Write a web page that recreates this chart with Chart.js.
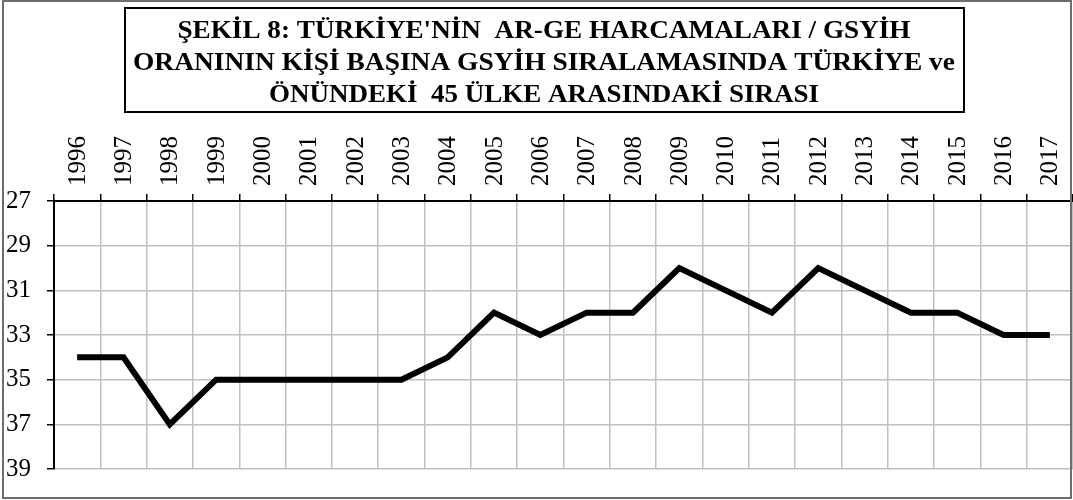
<!DOCTYPE html>
<html>
<head>
<meta charset="utf-8">
<script src="https://cdn.jsdelivr.net/npm/chart.js@4"></script>
<style>
html,body{margin:0;padding:0;background:#fff;}
#wrap{width:1073px;height:500px;position:relative;}
</style>
</head>
<body>
<div id="wrap"><canvas id="c" width="1073" height="500"></canvas></div>
<script>
const years = ['1996','1997','1998','1999','2000','2001','2002','2003','2004','2005','2006','2007','2008','2009','2010','2011','2012','2013','2014','2015','2016','2017'];
const ranks = [34,34,37,35,35,35,35,35,34,32,33,32,32,30,31,32,30,31,32,32,33,33];
const titleLines = ["ŞEKİL 8: TÜRKİYE'NİN  AR-GE HARCAMALARI / GSYİH", "ORANININ KİŞİ BAŞINA GSYİH SIRALAMASINDA TÜRKİYE ve", "ÖNÜNDEKİ  45 ÜLKE ARASINDAKİ SIRASI"];
const yMin = 27, yMax = 39, yStep = 2;

const framePlugin = {
  id: 'frame',
  beforeDraw(chart) {
    const ctx = chart.ctx;
    ctx.save();
    ctx.fillStyle = '#fff';
    ctx.fillRect(0, 0, chart.width, chart.height);
    ctx.restore();
  },
  afterDraw(chart) {
    const ctx = chart.ctx;
    ctx.save();
    ctx.strokeStyle = '#6e6e6e';
    ctx.lineWidth = 2;
    ctx.strokeRect(3, 1, 1068, 497);
    // title box
    ctx.strokeStyle = '#000';
    ctx.lineWidth = 2;
    ctx.strokeRect(125, 8, 839, 104);
    ctx.fillStyle = '#000';
    ctx.font = 'bold 26px "Liberation Serif"';
    ctx.textBaseline = 'alphabetic';
    ctx.textAlign = 'center';
    const widths = [733, 822, 550];
    const bases = [38, 70, 102];
    const cx = 544;
    titleLines.forEach((t, i) => {
      const w = ctx.measureText(t).width;
      const s = widths[i] / w;
      ctx.save();
      ctx.translate(cx, bases[i]);
      ctx.scale(s, 1);
      ctx.fillText(t, 0, 0);
      ctx.restore();
    });
    ctx.restore();
  }
};

new Chart(document.getElementById('c'), {
  type: 'line',
  data: {
    labels: years,
    datasets: [{
      data: ranks,
      borderColor: '#000',
      borderWidth: 6,
      pointRadius: 0,
      tension: 0,
      borderJoinStyle: 'miter',
      fill: false
    }]
  },
  options: {
    responsive: false,
    animation: false,
    events: [],
    layout: { padding: { top: 120, left: 6, right: 0, bottom: 26 } },
    plugins: { legend: { display: false }, tooltip: { enabled: false }, title: { display: false } },
    scales: {
      x: {
        position: 'top',
        offset: true,
        grid: { offset: true, color: '#c0c0c0', lineWidth: 1.5, tickColor: '#000', tickLength: 7, tickWidth: 1.5 },
        border: { color: '#000', width: 2 },
        ticks: { color: '#000', font: { family: 'Liberation Serif', size: 25 }, minRotation: 90, maxRotation: 90, padding: 8, autoSkip: false, labelOffset: 31 },
        afterFit(scale) { scale.height = 81; }
      },
      y: {
        reverse: true,
        min: yMin, max: yMax,
        grid: { color: '#c0c0c0', lineWidth: 1.5, tickColor: '#000', tickLength: 7, tickWidth: 1.5 },
        border: { color: '#000', width: 2 },
        ticks: { stepSize: yStep, color: '#000', font: { family: 'Liberation Serif', size: 25 }, padding: 16 },
        afterFit(scale) { scale.width = 48; }
      }
    }
  },
  plugins: [framePlugin]
});
</script>
</body>
</html>
